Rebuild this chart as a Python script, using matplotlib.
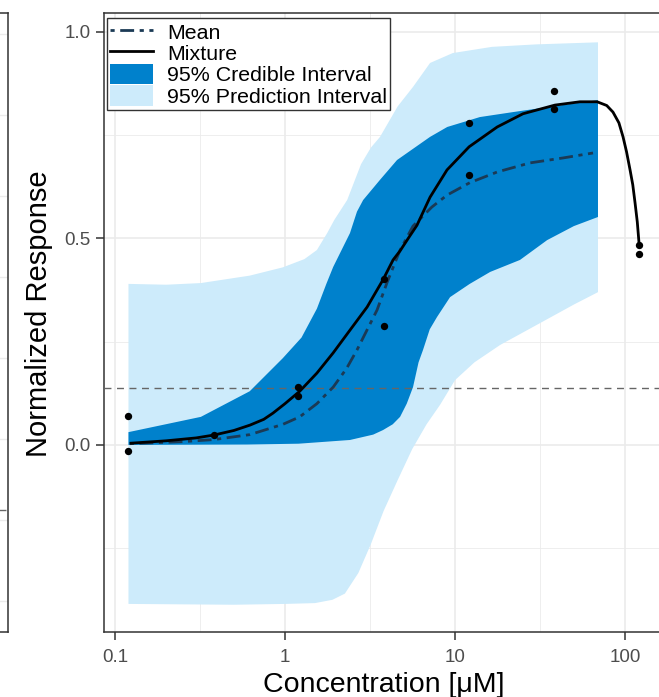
import matplotlib
matplotlib.use("Agg")
import matplotlib.pyplot as plt
import numpy as np
from matplotlib.lines import Line2D
from matplotlib.patches import Patch

plt.rcParams['font.family'] = ['Liberation Sans', 'DejaVu Sans']

# observed responses
conc = [0.12, 0.12, 0.38, 1.2, 1.2, 3.8, 3.8, 12, 12, 38, 38, 120, 120]
resp = [0.069, -0.014, 0.023, 0.14, 0.119, 0.401, 0.287, 0.779, 0.654,
        0.856, 0.813, 0.484, 0.462]

# mixture curve
mix_x = [0.122, 0.2, 0.3, 0.382, 0.5, 0.622, 0.75, 0.849, 1.0, 1.22, 1.54,
         1.92, 2.41, 3.04, 3.77, 4.32, 4.75, 5.3, 5.97, 7.13, 8.97, 12.1,
         17.7, 25.1, 38.7, 54.3, 68.5, 78, 84.9, 92, 97.3, 102, 107, 111,
         114.5, 118, 120.8]
mix_y = [0.004, 0.01, 0.017, 0.024, 0.035, 0.048, 0.062, 0.077, 0.1, 0.13,
         0.174, 0.223, 0.278, 0.334, 0.400, 0.448, 0.47, 0.5, 0.532, 0.6,
         0.666, 0.722, 0.77, 0.802, 0.823, 0.831, 0.831, 0.822, 0.806,
         0.78, 0.746, 0.71, 0.666, 0.63, 0.586, 0.54, 0.489]

# posterior mean curve
mean_x = [0.122, 0.25, 0.382, 0.622, 0.973, 1.22, 1.54, 1.92, 2.3, 2.65,
          3.05, 3.48, 3.98, 4.75, 5.66, 7.3, 8.97, 12.2, 17.7, 27.6, 43.2,
          64.8]
mean_y = [0.003, 0.008, 0.013, 0.025, 0.05, 0.068, 0.1, 0.14, 0.185, 0.23,
          0.28, 0.327, 0.393, 0.472, 0.53, 0.576, 0.605, 0.635, 0.661,
          0.683, 0.695, 0.707]

# 95% credible interval
ci_up_x = [0.12, 0.32, 0.62, 0.97, 1.25, 1.54, 1.75, 1.92, 2.41, 2.65, 2.88,
           3.62, 4.56, 7.13, 9.0, 14.0, 21.9, 34.8, 69.3]
ci_up_y = [0.031, 0.068, 0.13, 0.21, 0.26, 0.33, 0.39, 0.431, 0.513, 0.565,
           0.593, 0.642, 0.69, 0.746, 0.77, 0.794, 0.806, 0.818, 0.835]
ci_lo_x = [0.12, 0.6, 1.2, 2.41, 3.3, 3.77, 4.3, 4.75, 5.2, 5.66, 6.1, 6.48,
           7.1, 7.84, 9.35, 12.2, 16.1, 24.1, 34.8, 50, 69.3]
ci_lo_y = [0.0, 0.001, 0.003, 0.012, 0.025, 0.036, 0.05, 0.068, 0.1, 0.14,
           0.2, 0.23, 0.28, 0.31, 0.358, 0.39, 0.419, 0.448, 0.496, 0.53,
           0.552]

# 95% prediction interval
pi_up_x = [0.12, 0.2, 0.32, 0.62, 0.97, 1.3, 1.54, 1.77, 1.95, 2.32, 2.8,
           3.2, 3.62, 4.6, 5.66, 7.13, 9.7, 16.5, 30, 69.3]
pi_up_y = [0.39, 0.388, 0.392, 0.41, 0.43, 0.45, 0.472, 0.513, 0.545, 0.593,
           0.68, 0.72, 0.746, 0.82, 0.867, 0.925, 0.949, 0.964, 0.97, 0.975]
pi_lo_x = [0.12, 0.5, 1.0, 1.5, 1.9, 2.25, 2.7, 3.2, 3.8, 4.6, 5.6, 6.8,
           8.16, 10.0, 13, 18.4, 31.6, 50, 69.3]
pi_lo_y = [-0.385, -0.387, -0.385, -0.383, -0.375, -0.36, -0.31, -0.24,
           -0.16, -0.085, -0.01, 0.05, 0.097, 0.157, 0.2, 0.242, 0.295,
           0.34, 0.37]

threshold = 0.137

x_ticks = [0.1, 1, 10, 100]
x_ticklabels = ['0.1', '1', '10', '100']
y_ticks = [0.0, 0.5, 1.0]
y_ticklabels = ['0.0', '0.5', '1.0']

# neighbouring panel (only its right edge shows)
side_grid = [0, 1, 2, 3, 4, 5, 6, 7]
side_threshold = 1.12

dark = '#0081CC'
light = '#CDEBFB'
navy = '#1B3A55'
grid_c = '#EBEBEB'
frame_c = '#333333'
text_c = '#4D4D4D'

W, H = 659, 697
fig = plt.figure(figsize=(W / 100, H / 100), dpi=100)

# main panel
L, R, T, B = 104, 664, 13, 632
ax = fig.add_axes([L / W, (H - B) / H, (R - L) / W, (B - T) / H])
ax.set_xscale('log')
ax.set_xlim(10 ** -1.0647, 10 ** 2.229)
ax.set_ylim(-0.453, 1.046)

for v in [10 ** -0.5, 10 ** 0.5, 10 ** 1.5]:
    ax.axvline(v, color=grid_c, lw=0.6, zorder=0)
for v in [-0.25, 0.25, 0.75]:
    ax.axhline(v, color=grid_c, lw=0.6, zorder=0)
for v in x_ticks:
    ax.axvline(v, color=grid_c, lw=1.2, zorder=0)
for v in y_ticks:
    ax.axhline(v, color=grid_c, lw=1.2, zorder=0)

ax.fill(np.concatenate([pi_up_x, pi_lo_x[::-1]]),
        np.concatenate([pi_up_y, pi_lo_y[::-1]]),
        color=light, lw=0, zorder=1)
ax.fill(np.concatenate([ci_up_x, ci_lo_x[::-1]]),
        np.concatenate([ci_up_y, ci_lo_y[::-1]]),
        color=dark, lw=0, zorder=2)

ax.axhline(threshold, color='#666666', lw=1.0, ls=(0, (5, 4)), zorder=3)

ax.plot(mean_x, mean_y, color=navy, lw=2.0, ls=(0, (1.5, 2, 5, 2)),
        dash_capstyle='butt', zorder=4)
ax.plot(mix_x, mix_y, color='black', lw=2.0, solid_capstyle='butt',
        zorder=5)
ax.scatter(conc, resp, s=28, color='black', zorder=6, linewidths=0)

ax.set_xticks(x_ticks)
ax.set_xticklabels(x_ticklabels)
ax.set_yticks(y_ticks)
ax.set_yticklabels(y_ticklabels)
ax.minorticks_off()
ax.tick_params(length=5.5, width=1.1, color=frame_c, labelcolor=text_c,
               labelsize=13.5, pad=4)
ax.tick_params(axis='x', pad=6.5)
for s in ax.spines.values():
    s.set_color(frame_c)
    s.set_linewidth(1.1)

ax.set_xlabel('Concentration [\u03bcM]', fontsize=20.5, labelpad=4.5)
ax.set_ylabel('Normalized Response', fontsize=21, labelpad=8)
ax.yaxis.label.set_y(0.515)

handles = [
    Line2D([], [], color=navy, lw=2.0, ls=(0, (1.5, 2, 5, 2)),
           dash_capstyle='butt'),
    Line2D([], [], color='black', lw=2.0),
    Patch(facecolor=dark, edgecolor='none'),
    Patch(facecolor=light, edgecolor='none'),
]
labels = ['Mean', 'Mixture', '95% Credible Interval', '95% Prediction Interval']
leg = ax.legend(handles, labels, loc='upper left',
                bbox_to_anchor=(3 / (R - L), 1 - 5 / (B - T)),
                borderaxespad=0, fontsize=15.4, handlelength=2.0,
                handleheight=1.08, labelspacing=0.0, handletextpad=0.65,
                borderpad=0.15, fancybox=False, framealpha=1)
leg.get_frame().set_edgecolor(frame_c)
leg.get_frame().set_linewidth(1.0)
leg.set_zorder(10)

# left neighbour panel edge
side = fig.add_axes([-0.5, (H - B) / H, 0.5 + 8 / W, (B - T) / H])
side.set_ylim(-0.38, 7.26)
side.set_xlim(0, 1)
for v in side_grid:
    side.axhline(v, color=grid_c, lw=1.0, zorder=0)
side.axhline(side_threshold, color='#666666', lw=1.0, ls=(0, (5, 4)))
side.set_xticks([])
side.set_yticks([])
for s in side.spines.values():
    s.set_color(frame_c)
    s.set_linewidth(1.1)

fig.savefig('out.png', dpi=100)
